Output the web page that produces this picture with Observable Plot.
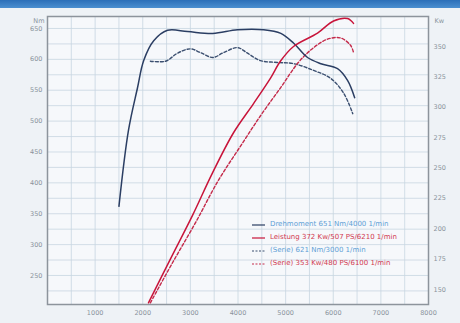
<!DOCTYPE html>
<html><head><meta charset="utf-8">
<script src="https://cdn.jsdelivr.net/npm/d3@7"></script>
<script src="https://cdn.jsdelivr.net/npm/@observablehq/plot@0.6"></script>
<style>
body{margin:0;background:#eef2f6;font-family:"DejaVu Sans",sans-serif;}
#wrap{position:relative;width:460px;height:323px;overflow:hidden;}
#band{height:8px;background:linear-gradient(#2c6fb8,#4b8fd0);}
#legend{position:absolute;left:252px;top:218px;font-size:7px;line-height:13px;}
#legend .row{display:flex;align-items:center;white-space:nowrap;}
#legend svg{margin-right:4px;}
</style></head>
<body><div id="wrap"><div id="band"></div><div id="chart"></div><div id="legend"></div></div>
<script>
// Data
const rpmTorque = [1500,1700,1890,2020,2230,2520,2940,3470,3990,4540,4900,5170,5460,5740,6090,6300,6450];
const torque    = [362,485,554,598,630,647,645,642,648,648,642,626,603,593,585,566,538];
const rpmTorqueSerie = [2160,2480,2730,3000,3210,3470,3700,3990,4200,4470,4830,5170,5590,5950,6220,6410];
const torqueSerie    = [597,597,610,617,611,603,611,619,610,598,595,593,582,569,545,512];
const rpmPower = [2120,2580,3045,3465,3906,4326,4683,4893,5166,5670,6006,6300,6426];
const power    = [139,175,211,246,279,303,324,338,350,361,371,373,369];
const rpmPowerSerie = [2160,2625,3108,3591,4053,4473,4893,5271,5586,5880,6153,6363,6426];
const powerSerie    = [139,172,205,240,268,293,316,337,349,356,357,351,345];
const xTicks  = [1000,2000,3000,4000,5000,6000,7000,8000];
const nmTicks = [250,300,350,400,450,500,550,600,650];
const kwTicks = [150,175,200,225,250,275,300,325,350];
const legendLabels = [
  "Drehmoment 651 Nm/4000 1/min",
  "Leistung 372 Kw/507 PS/6210 1/min",
  "(Serie) 621 Nm/3000 1/min",
  "(Serie) 353 Kw/480 PS/6100 1/min"
];

const blue = "#2b3e63", blueDash = "#3b4f70", red = "#c8143a", redDash = "#c42a4a";
const toNm = kw => 620.85 + (kw - 350) * 1.9676;
const toKw = nm => (nm - 620.85) / 1.9676 + 350;

const zip = (xs, ys, f = v => v) => xs.map((x, i) => ({x, y: f(ys[i])}));
const sTorque = zip(rpmTorque, torque);
const sTorqueSerie = zip(rpmTorqueSerie, torqueSerie);
const sPower = zip(rpmPower, power, toNm);
const sPowerSerie = zip(rpmPowerSerie, powerSerie, toNm);

const plot = Plot.plot({
  width: 460, height: 315,
  marginTop: 8, marginBottom: 19, marginLeft: 47, marginRight: 32,
  style: {background: "transparent", fontFamily: "DejaVu Sans, sans-serif", fontSize: "6.5px", color: "#8a939c"},
  x: {domain: [0, 8000], label: null},
  y: {domain: [203, 669.4], label: null},
  marks: [
    Plot.frame({fill: "#f6f8fb", stroke: "none"}),
    Plot.gridX(d3.range(500, 8000, 500), {stroke: "#c8d5e1", strokeOpacity: 1, strokeWidth: 0.8}),
    Plot.gridY(d3.range(225, 669, 25), {stroke: "#c8d5e1", strokeOpacity: 1, strokeWidth: 0.8}),
    Plot.frame({stroke: "#8d949c", strokeWidth: 1.5}),
    Plot.axisX(xTicks, {tickSize: 0, tickPadding: 6, label: null, tickFormat: d => String(d), fill: "#8a939c"}),
    Plot.axisY(nmTicks, {anchor: "left", tickSize: 0, tickPadding: 5, label: null, fill: "#8a939c"}),
    Plot.axisY(kwTicks.map(toNm), {anchor: "right", tickSize: 0, tickPadding: 5, label: null, tickFormat: d => String(Math.round(toKw(d))), fill: "#8a939c"}),
    Plot.text(["Nm"], {frameAnchor: "top-left", dx: -3, dy: 2, textAnchor: "end", fill: "#8a939c"}),
    Plot.text(["Kw"], {frameAnchor: "top-right", dx: 6, dy: 2, textAnchor: "start", fill: "#8a939c"}),
    Plot.line(sTorqueSerie, {x: "x", y: "y", stroke: blueDash, strokeWidth: 1.4, strokeDasharray: "3,2", curve: "catmull-rom"}),
    Plot.line(sPowerSerie, {x: "x", y: "y", stroke: redDash, strokeWidth: 1.4, strokeDasharray: "3,2", curve: "catmull-rom"}),
    Plot.line(sTorque, {x: "x", y: "y", stroke: blue, strokeWidth: 1.5, curve: "catmull-rom"}),
    Plot.line(sPower, {x: "x", y: "y", stroke: red, strokeWidth: 1.5, curve: "catmull-rom"})
  ]
});
document.getElementById("chart").append(plot);

const legendStyles = [
  {stroke: blue, dash: null, text: "#5f9fd6"},
  {stroke: red, dash: null, text: "#d23a50"},
  {stroke: blueDash, dash: "2,1.5", text: "#5f9fd6"},
  {stroke: redDash, dash: "2,1.5", text: "#d23a50"}
];
const leg = d3.select("#legend");
legendLabels.forEach((lab, i) => {
  const st = legendStyles[i];
  const row = leg.append("div").attr("class", "row");
  const s = row.append("svg").attr("width", 14).attr("height", 6);
  s.append("line").attr("x1", 0).attr("x2", 13).attr("y1", 3).attr("y2", 3)
    .attr("stroke", st.stroke).attr("stroke-width", 1.2).attr("stroke-dasharray", st.dash);
  row.append("span").text(lab).style("color", st.text);
});
</script></body></html>
